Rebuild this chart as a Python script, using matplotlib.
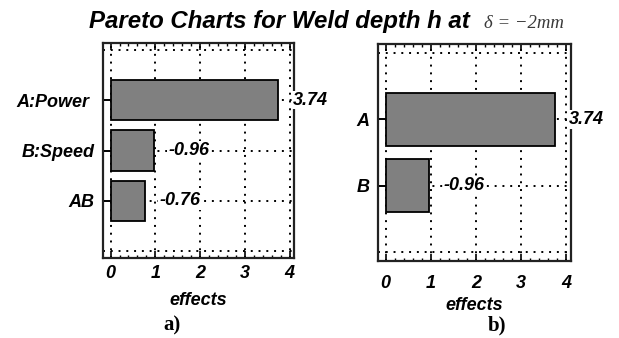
import matplotlib
matplotlib.use("Agg")
import matplotlib.pyplot as plt
from matplotlib.ticker import MultipleLocator

# ---- data ----
title_main = "Pareto Charts for Weld depth h at"
title_cond = "δ = −2mm"
labels_a = ["A:Power ", "B:Speed", "AB"]
effects_a = [3.74, 0.96, 0.76]
values_a = ["3.74", "-0.96", "-0.76"]
labels_b = ["A", "B"]
effects_b = [3.74, 0.96]
values_b = ["3.74", "-0.96"]
x_ticks = [0, 1, 2, 3, 4]
x_label = "effects"
panel_tags = ["a)", "b)"]

SANS = "Liberation Sans"
SERIF = "Liberation Serif"
FS = 13

fig = plt.figure(figsize=(6.19, 3.38), dpi=100)
W, H = 619, 338


def px_axes(l, t, r, b):
    return fig.add_axes([l / W, 1 - b / H, (r - l) / W, (b - t) / H])


def draw_panel(ax, labels, effects, values, tick_pad, ylab_pad):
    n = len(labels)
    ypos = list(range(n - 1, -1, -1))
    ax.set_xlim(-0.17, 4.1)
    ax.set_ylim(-1.13, n - 1 + 1.13)
    # grid
    for gx in x_ticks:
        ax.axvline(gx, color="black", lw=1.4, ls=(0, (1, 3)), zorder=0.5)
    for gy in range(-1, n + 1):
        ax.axhline(gy, color="black", lw=1.4, ls=(0, (1, 3)), zorder=0.5)
    ax.barh(ypos, effects, height=0.8, color="#808080", edgecolor="black",
            linewidth=1.3, zorder=2)
    ax.set_yticks(ypos)
    ax.set_yticklabels(labels, fontfamily=SANS, fontweight="bold",
                       fontstyle="italic", fontsize=FS)
    ax.set_xticks(x_ticks)
    ax.set_xticklabels([str(t) for t in x_ticks], fontfamily=SANS,
                       fontweight="bold", fontstyle="italic", fontsize=FS)
    ax.xaxis.set_minor_locator(MultipleLocator(0.2))
    ax.tick_params(axis="x", which="major", direction="in", top=True,
                   bottom=True, length=5, width=1.2, pad=tick_pad)
    ax.tick_params(axis="x", which="minor", direction="in", top=True,
                   bottom=True, length=2.5, width=1.0)
    ax.tick_params(axis="y", which="major", direction="in", left=True,
                   right=False, length=6, width=1.4, pad=ylab_pad)
    for s in ax.spines.values():
        s.set_linewidth(1.6)
        s.set_color("#222222")
    # value labels
    for y, e, v in zip(ypos, effects, values):
        ax.annotate(v, xy=(e, y), xytext=(10.5, 0), textcoords="offset points",
                    ha="left", va="center", fontfamily=SANS,
                    fontweight="bold", fontstyle="italic", fontsize=FS,
                    annotation_clip=False, zorder=5,
                    bbox=dict(boxstyle="square,pad=0.05", fc="white",
                              ec="none"))


ax_a = px_axes(103, 43, 294, 258)
draw_panel(ax_a, labels_a, effects_a, values_a, tick_pad=5, ylab_pad=6)
ax_a.set_xlabel(x_label, fontfamily=SANS, fontweight="bold",
                fontstyle="italic", fontsize=FS, labelpad=7)

ax_b = px_axes(378, 44, 571, 261)
draw_panel(ax_b, labels_b, effects_b, values_b, tick_pad=10, ylab_pad=6)
ax_b.set_xlabel(x_label, fontfamily=SANS, fontweight="bold",
                fontstyle="italic", fontsize=FS, labelpad=4)

fig.text(89 / W, 1 - 28 / H, title_main, ha="left", va="baseline",
         fontfamily=SANS, fontweight="bold", fontstyle="italic",
         fontsize=17.3)
fig.text(484 / W, 1 - 28 / H, title_cond, ha="left", va="baseline",
         fontfamily=SERIF, fontstyle="italic", fontsize=13.5, color="#3a3a3a")

fig.text(163 / W, 1 - 330 / H, panel_tags[0], ha="left", va="baseline",
         fontfamily=SERIF, fontweight="bold", fontsize=15)
fig.text(506 / W, 1 - 330 / H, panel_tags[1], ha="right", va="baseline",
         fontfamily=SERIF, fontweight="bold", fontsize=15)

fig.savefig("out.png", dpi=100)
